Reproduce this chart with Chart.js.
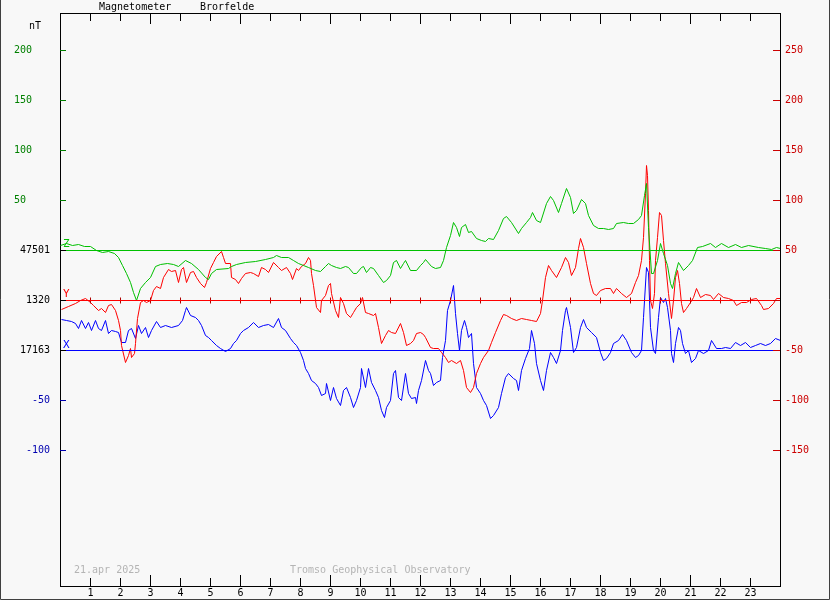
<!DOCTYPE html>
<html>
<head>
<meta charset="utf-8">
<script src="https://cdn.jsdelivr.net/npm/chart.js@4.4.1/dist/chart.umd.min.js"></script>
<style>
  html, body { margin: 0; padding: 0; background: #f8f8f8; }
  #wrap { width: 830px; height: 600px; }
</style>
</head>
<body>
<div id="wrap"><canvas id="mag" width="830" height="600"></canvas></div>
<script>
// ── Brorfelde magnetometer, 21.apr 2025 ──────────────────────────────────────
// time = minutes after 00 UT, values = nT away from each component's baseline

const HOURS = [1, 2, 3, 4, 5, 6, 7, 8, 9, 10, 11, 12, 13, 14, 15, 16, 17, 18, 19, 20, 21, 22, 23];

const AXIS_TICKS   = [250, 200, 150, 100, 50, 0, -50, -100, -150];
const LEFT_LABELS  = ['200', '150', '100', '50', '47501', '1320', '17163', '-50', '-100'];
const RIGHT_LABELS = ['250', '200', '150', '100', '50', '', '-50', '-100', '-150'];

// Z (green), baseline 47501 nT
const zTime = [0,12,24,36,48,60,72,84,96,108,116,124,132,140,146,152,160,170,180,190,
  200,214,226,236,250,262,276,290,296,302,312,336,342,352,370,390,410,426,432,442,
  456,466,476,486,496,510,520,530,536,542,552,560,570,576,586,592,602,606,612,620,
  626,636,646,652,660,666,672,680,686,690,700,712,720,726,730,742,750,760,766,772,
  780,786,792,798,802,810,816,822,832,842,850,856,866,876,886,892,902,916,922,932,
  940,944,952,960,972,980,986,996,1002,1012,1020,1026,1032,1042,1050,1056,1066,1076,1086,1096,
  1106,1112,1126,1136,1146,1156,1162,1168,1172,1176,1182,1186,1194,1200,1206,1214,1220,1224,1230,1236,
  1246,1256,1264,1274,1284,1300,1310,1322,1336,1350,1362,1376,1396,1410,1422,1432,1440];
const zVal = [5,7,5,6,4,4,0,-2,-1,-3,-7,-15,-23,-32,-42,-50,-38,-32,-27,-16,
  -14,-13,-14,-16,-10,-13,-19,-27,-29,-23,-19,-18,-16,-14,-12,-11,-9,-7,-5,-7,
  -7,-10,-13,-15,-17,-20,-21,-16,-13,-15,-17,-18,-16,-17,-23,-23,-17,-16,-22,-17,
  -18,-25,-32,-30,-25,-12,-10,-18,-13,-10,-20,-20,-15,-12,-9,-16,-18,-17,-10,3,
  15,28,23,14,23,26,18,19,12,10,9,12,11,20,32,34,28,17,22,28,
  33,38,30,28,47,54,50,38,47,62,53,37,40,51,47,35,25,22,22,21,
  22,27,28,27,27,31,35,55,67,23,-23,-23,-10,7,-3,-15,-33,-38,-23,-12,
  -20,-15,-10,3,4,7,3,7,3,6,3,5,3,2,1,3,2];

// Y (red), baseline 1320 nT
const yTime = [2,16,30,40,50,60,66,76,82,90,96,102,110,116,120,122,130,136,140,142,
  148,150,154,160,166,172,180,186,192,200,206,216,222,230,236,242,246,252,260,266,
  272,280,288,292,300,306,312,322,326,330,340,342,350,356,362,370,380,386,396,402,
  410,416,426,436,442,452,460,464,472,476,482,490,496,500,502,506,512,520,522,530,
  536,540,542,550,556,560,566,572,580,586,592,600,604,610,616,626,630,636,642,650,
  656,662,670,680,686,692,700,706,712,720,726,730,740,746,756,762,770,776,782,792,
  800,806,812,820,826,832,840,846,856,862,870,880,886,892,902,912,922,932,942,952,
  960,964,970,976,982,992,1002,1010,1016,1022,1030,1036,1040,1046,1052,1060,1066,1072,1080,1090,
  1100,1106,1112,1122,1132,1142,1150,1156,1162,1166,1170,1172,1174,1176,1178,1180,1184,1188,1190,1194,
  1198,1202,1206,1210,1216,1222,1226,1230,1234,1238,1242,1246,1252,1260,1266,1272,1280,1290,1300,1306,
  1316,1326,1336,1346,1352,1362,1372,1382,1392,1402,1406,1416,1426,1432,1440];
const yVal = [-9,-6,-3,0,2,-2,-5,-10,-8,-12,-5,-4,-10,-20,-30,-45,-62,-55,-48,-57,
  -53,-43,-18,-2,0,-2,0,10,14,12,23,31,29,30,18,31,33,18,28,29,
  23,17,13,18,32,38,44,49,43,37,37,23,21,17,22,27,28,27,24,33,
  31,28,38,33,30,33,27,21,32,30,34,37,43,40,27,15,-7,-12,0,5,
  15,17,7,-10,-17,3,-3,-13,-17,-12,-7,-3,3,-12,-13,-15,-13,-27,-43,-35,
  -30,-32,-33,-23,-32,-45,-43,-40,-33,-32,-34,-37,-47,-48,-48,-52,-57,-62,-60,-63,
  -60,-70,-87,-92,-87,-73,-63,-57,-50,-42,-32,-20,-14,-15,-18,-20,-18,-19,-20,-21,
  -13,0,23,35,30,23,33,43,38,25,33,52,62,53,37,17,7,5,10,12,
  12,7,12,7,3,7,18,25,40,63,107,135,125,90,40,0,-8,7,40,63,
  88,85,60,37,7,-18,0,23,30,17,-3,-12,-8,-2,3,12,3,6,5,1,
  7,3,2,0,-5,-2,-2,1,2,-5,-9,-8,-3,2,2];

// X (blue), baseline 17163 nT
const xTime = [2,12,22,30,36,42,50,56,62,70,76,82,90,96,102,110,116,122,130,136,
  142,150,156,162,170,176,182,192,200,210,222,236,244,250,252,260,270,276,282,290,
  296,302,312,320,330,340,346,352,360,366,376,386,396,406,416,426,436,442,450,460,
  466,472,480,486,490,496,502,510,516,522,530,532,540,546,552,560,566,572,580,586,
  592,600,602,610,616,622,630,636,642,648,652,660,666,670,676,682,690,696,702,710,
  712,716,722,730,736,740,746,752,760,764,770,774,780,786,790,794,798,802,808,812,
  816,822,826,832,840,846,852,860,866,876,882,890,896,906,912,916,922,930,938,942,
  948,952,960,966,972,980,986,992,1000,1004,1010,1012,1020,1026,1032,1040,1046,1052,1062,1072,
  1080,1086,1092,1100,1106,1116,1124,1132,1142,1150,1156,1162,1166,1172,1176,1180,1186,1190,1196,1200,
  1206,1210,1214,1220,1222,1226,1230,1236,1240,1244,1250,1256,1262,1270,1276,1286,1296,1302,1312,1322,
  1330,1340,1350,1360,1370,1380,1390,1400,1410,1420,1430,1440];
const xVal = [31,30,29,27,22,30,22,28,20,30,22,20,30,17,20,19,18,8,8,20,
  22,12,25,17,23,13,20,29,23,25,23,25,30,40,43,35,33,30,25,15,
  13,10,5,2,-1,2,7,10,17,20,23,28,23,25,26,23,32,23,20,12,
  8,5,-2,-10,-18,-23,-30,-33,-37,-45,-43,-33,-50,-37,-48,-55,-40,-37,-47,-57,
  -50,-37,-18,-37,-18,-32,-40,-47,-60,-67,-57,-50,-23,-20,-47,-50,-23,-43,-48,-47,
  -53,-40,-30,-10,-20,-23,-35,-32,-30,-7,10,40,50,65,37,17,0,20,30,23,
  13,17,-13,-37,-43,-50,-55,-68,-65,-57,-43,-27,-23,-28,-30,-40,-20,-8,2,20,
  7,-13,-30,-40,-20,-2,-7,-13,0,20,40,43,23,-2,3,23,31,23,18,13,
  -2,-10,-8,-2,7,10,16,10,-2,-7,-5,0,33,83,78,23,0,-3,33,53,
  48,52,43,20,-3,-12,7,23,20,7,-3,0,-12,-8,0,-3,0,10,2,2,
  3,2,8,5,8,3,5,7,5,7,12,10];

const GREEN = '#00c000';
const RED   = '#ff0000';
const BLUE  = '#0000ff';
const MONO  = '"DejaVu Sans Mono", "Liberation Mono", monospace';
const LEFT_COLORS = ['#008000', '#008000', '#008000', '#008000', '#000', '#000', '#000', '#0000b0', '#0000b0'];
const RIGHT_COLOR = '#cc0000';

// x runs -1..1439 so hour marks land on pixel centres
const T_MIN = -1, T_MAX = 1439;

const pts = (t, v) => t.map((m, i) => ({ x: m, y: v[i] }));
const flat = [{ x: T_MIN, y: 0 }, { x: T_MAX, y: 0 }];

function trace(label, data, axis, color) {
  return { label, data, yAxisID: axis, borderColor: color, borderWidth: 1,
           pointRadius: 0, tension: 0, fill: false };
}

// fixed box sizes, no label overhang padding
function fitTo(w, h) {
  return s => {
    if (w !== null) s.width = w;
    if (h !== null) s.height = h;
    s.paddingTop = 0; s.paddingBottom = 0;
    s.paddingLeft = 0; s.paddingRight = 0;
  };
}

const frame = {
  id: 'frame',
  beforeDraw(chart) {
    const { ctx, width, height } = chart;
    ctx.save();
    ctx.fillStyle = '#f8f8f8';
    ctx.fillRect(0, 0, width, height);
    ctx.restore();
  },
  afterDraw(chart) {
    const { ctx, chartArea: a, scales } = chart;
    ctx.save();
    ctx.lineWidth = 1;

    // hour marks on the top and bottom frame
    ctx.strokeStyle = '#000';
    HOURS.forEach(h => {
      const x = scales.x.getPixelForValue(h * 60);
      const len = h % 3 === 0 ? 11 : 8;
      ctx.beginPath();
      ctx.moveTo(x, a.bottom); ctx.lineTo(x, a.bottom - len);
      ctx.moveTo(x, a.top);    ctx.lineTo(x, a.top + len);
      ctx.stroke();
    });

    // value marks inside the left and right frame
    AXIS_TICKS.forEach((v, i) => {
      const y = scales.yR.getPixelForValue(v);
      ctx.strokeStyle = LEFT_COLORS[i];
      ctx.beginPath(); ctx.moveTo(a.left, y); ctx.lineTo(a.left + 6, y); ctx.stroke();
      ctx.strokeStyle = RIGHT_COLOR;
      ctx.beginPath(); ctx.moveTo(a.right - 7, y); ctx.lineTo(a.right, y); ctx.stroke();
    });

    // texts
    ctx.font = '10px ' + MONO;
    ctx.textBaseline = 'alphabetic';
    ctx.fillStyle = '#000';
    ctx.fillText('Magnetometer', 99, 10);
    ctx.fillText('Brorfelde', 200, 10);
    ctx.fillText('nT', 29, 29);
    ctx.fillStyle = '#b4b4b4';
    ctx.fillText('21.apr 2025', 74, 573);
    ctx.fillText('Tromso Geophysical Observatory', 290, 573);

    ctx.font = '11px ' + MONO;
    ctx.fillStyle = GREEN; ctx.fillText('Z', 63, 247);
    ctx.fillStyle = RED;   ctx.fillText('Y', 63, 297);
    ctx.fillStyle = BLUE;  ctx.fillText('X', 63, 348);

    // picture border
    ctx.strokeStyle = '#404040';
    ctx.beginPath();
    ctx.moveTo(0.5, 0); ctx.lineTo(0.5, 599.5); ctx.lineTo(829.5, 599.5); ctx.lineTo(829.5, 0);
    ctx.stroke();
    ctx.restore();
  },
};

const yAxis = (extra) => Object.assign({
  type: 'linear',
  min: -285.5,
  max: 287.5,
  grid: { display: false, drawTicks: false },
  border: { display: true, color: '#000' },
  afterBuildTicks: s => { s.ticks = AXIS_TICKS.map(v => ({ value: v })); },
}, extra);

new Chart(document.getElementById('mag'), {
  type: 'line',
  data: {
    datasets: [
      trace('Z base', flat, 'yZ', GREEN),
      trace('Y base', flat, 'yR', RED),
      trace('X base', flat, 'yX', BLUE),
      {
        type: 'scatter', label: 'hour marks', yAxisID: 'yR',
        data: HOURS.map(h => ({ x: h * 60, y: 0 })),
        pointStyle: 'line', rotation: 90, pointRadius: 3,
        borderColor: '#b00000', borderWidth: 1, showLine: false,
      },
      trace('Z', pts(zTime, zVal), 'yZ', GREEN),
      trace('Y', pts(yTime, yVal), 'yR', RED),
      trace('X', pts(xTime, xVal), 'yX', BLUE),
    ],
  },
  options: {
    responsive: false,
    animation: false,
    devicePixelRatio: 1,
    layout: { padding: 0 },
    plugins: { legend: { display: false }, tooltip: { enabled: false } },
    scales: {
      x: {
        type: 'linear', position: 'bottom', min: T_MIN, max: T_MAX,
        grid: { display: false, drawTicks: false },
        border: { display: true, color: '#000' },
        afterBuildTicks: s => { s.ticks = HOURS.map(h => ({ value: h * 60 })); },
        ticks: { callback: v => v / 60, color: '#000', font: { family: MONO, size: 10 },
                 padding: 1, maxRotation: 0, autoSkip: false },
        afterFit: fitTo(null, 14),
      },
      xTop: {
        type: 'linear', position: 'top', min: T_MIN, max: T_MAX,
        grid: { display: false, drawTicks: false },
        border: { display: true, color: '#000' },
        ticks: { display: false },
        afterFit: fitTo(null, 13),
      },
      yL: yAxis({
        position: 'left',
        ticks: {
          padding: 10,
          font: { family: MONO, size: 10 },
          color: ctx => LEFT_COLORS[AXIS_TICKS.indexOf(ctx.tick.value)],
          callback: v => {
            const i = AXIS_TICKS.indexOf(v);
            return i < 4 ? LEFT_LABELS[i].padEnd(6, ' ') : LEFT_LABELS[i];
          },
        },
        afterFit: fitTo(60, null),
      }),
      yR: yAxis({
        position: 'right',
        ticks: {
          padding: 5,
          font: { family: MONO, size: 10 },
          color: RIGHT_COLOR,
          callback: v => RIGHT_LABELS[AXIS_TICKS.indexOf(v)],
        },
        afterFit: fitTo(50, null),
      }),
      yZ: { type: 'linear', display: false, min: -335.5, max: 237.5 },
      yX: { type: 'linear', display: false, min: -235.5, max: 337.5 },
    },
  },
  plugins: [frame],
});
</script>
</body>
</html>
